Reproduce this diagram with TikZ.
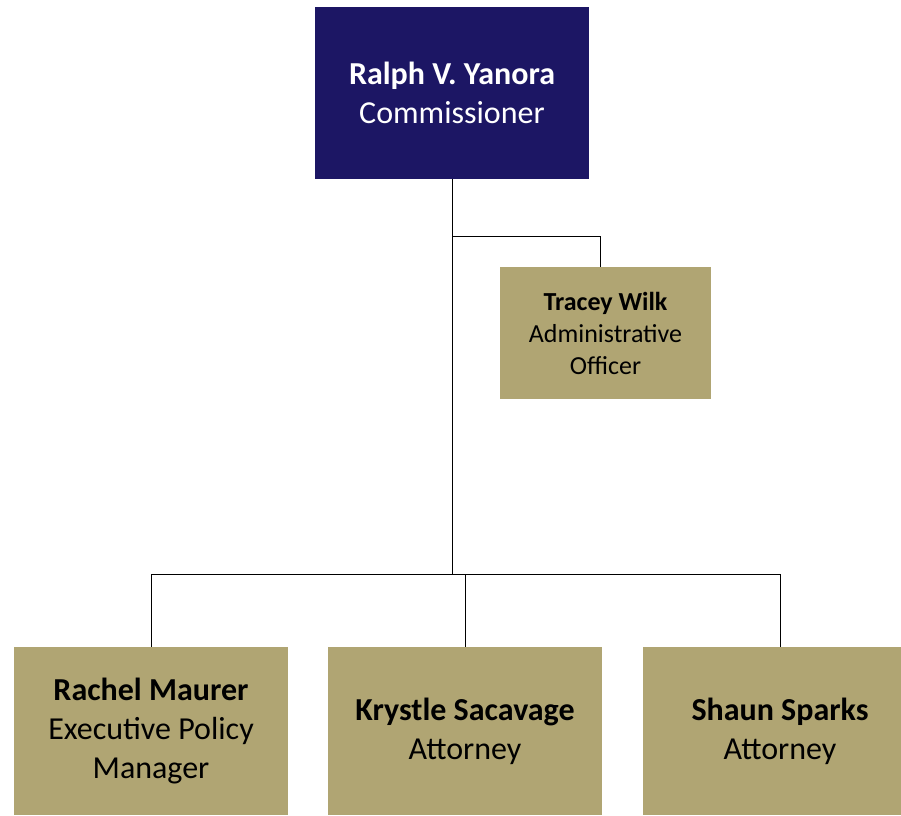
\documentclass[tikz,border=0pt]{standalone}
\usepackage{fontspec}
\setmainfont{Carlito}
\definecolor{navy}{RGB}{28,22,100}
\definecolor{gold}{RGB}{176,165,115}

\begin{document}
\begin{tikzpicture}[x=1pt,y=1pt]
\clip (0,0) rectangle (901,815);
\tikzstyle{head}=[rectangle,fill=navy,text=white,align=center,minimum width=274pt,minimum height=172pt,font=\fontsize{32}{39}\selectfont]
\tikzstyle{staff}=[rectangle,fill=gold,text=black,align=center,minimum width=274pt,minimum height=168pt,font=\fontsize{32}{39}\selectfont]
\tikzstyle{aide}=[rectangle,fill=gold,text=black,align=center,minimum width=211pt,minimum height=132pt,font=\fontsize{26}{32}\selectfont]
\tikzstyle{wire}=[draw=black,line width=0.9pt]

\node[head] (ralph) at (452,722) {\textbf{Ralph V. Yanora}\\Commissioner};

\node[aide] (tracey) at (605.5,482) {\textbf{Tracey Wilk}\\Administrative\\Officer};

\node[staff] (rachel) at (151,84) {\textbf{Rachel Maurer}\\Executive Policy\\Manager};
\node[staff] (krystle) at (465,84) {\textbf{Krystle Sacavage}\\Attorney};
\node[staff] (shaun) at (780,84) {\textbf{Shaun Sparks}\\Attorney};

\coordinate (hub) at (ralph.south |- 0,241);
\coordinate (split) at (ralph.south |- 0,579);
\coordinate (drop) at ([xshift=-5.5pt]tracey.north);

\path[wire] (ralph.south) -- (hub);
\path[wire] (split) -| (drop);
\path[wire] (rachel.north) |- (shaun.north |- hub) -- (shaun.north);
\path[wire] (krystle.north) -- (krystle.north |- hub);
\end{tikzpicture}
\end{document}
